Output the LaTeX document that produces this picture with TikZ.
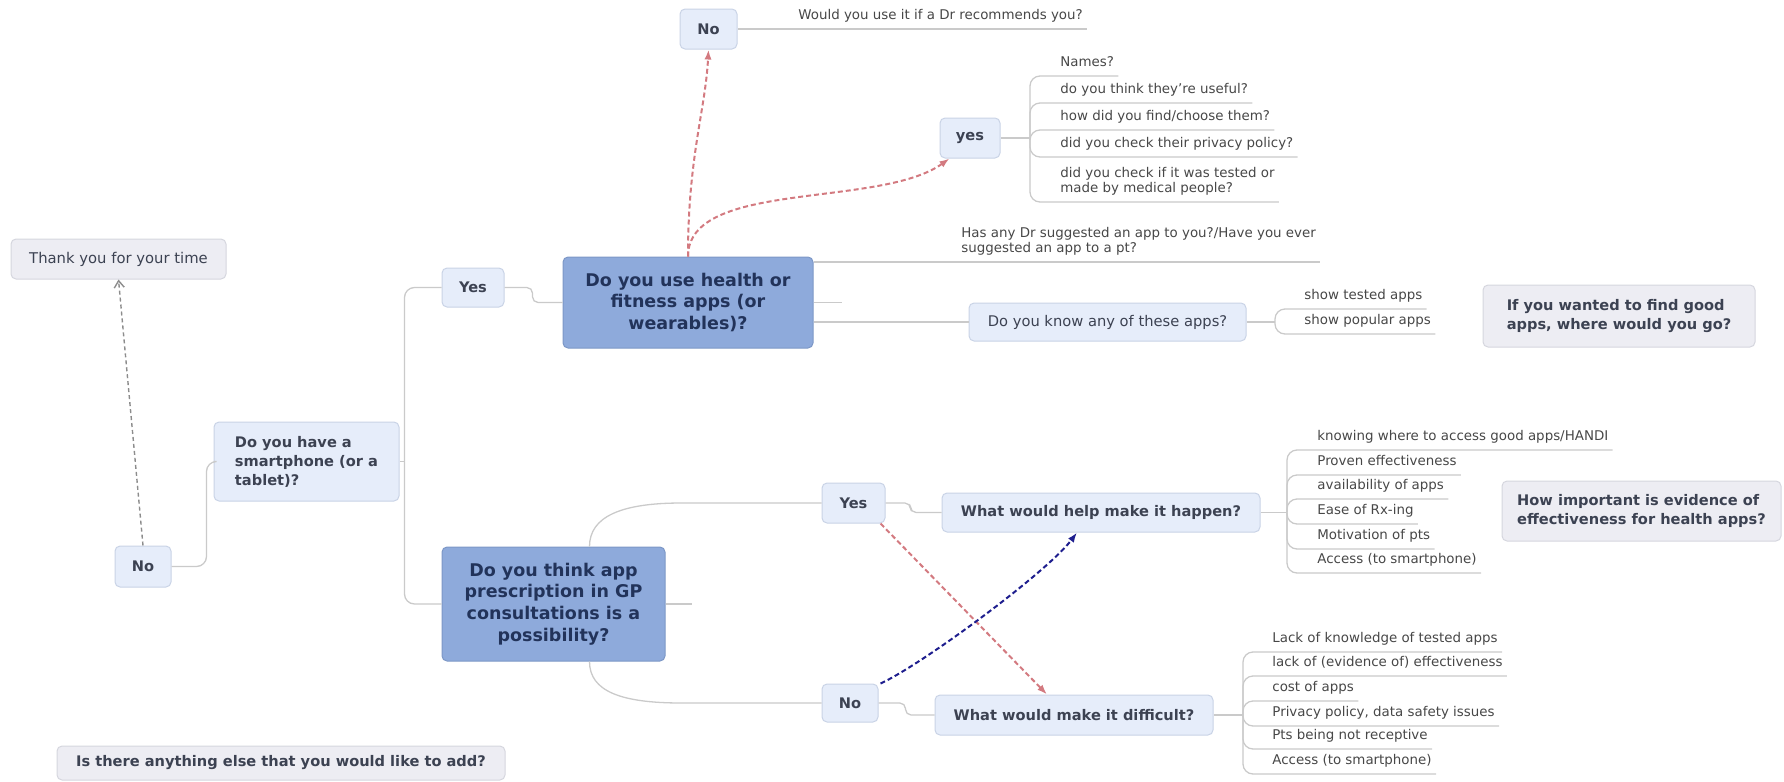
\documentclass[tikz,border=0pt]{standalone}
\usepackage{fontspec}
\setmainfont{DejaVu Sans}
\usetikzlibrary{arrows.meta,calc}
\definecolor{topic}{HTML}{8EAADB}
\definecolor{topicline}{HTML}{7C97C6}
\definecolor{topicink}{HTML}{22335A}
\definecolor{pale}{HTML}{E6EDFA}
\definecolor{paleline}{HTML}{C9D3E6}
\definecolor{mist}{HTML}{EDEDF3}
\definecolor{mistline}{HTML}{D5D6DE}
\definecolor{ink}{HTML}{3C4252}
\definecolor{leafink}{HTML}{474747}
\definecolor{twiggray}{HTML}{CACACA}
\definecolor{rose}{HTML}{D37A80}
\definecolor{navy}{HTML}{1E1E8E}
\definecolor{dashgray}{HTML}{8C8C8C}

\begin{document}
\begin{tikzpicture}[x=.5pt,y=-.5pt,text=ink,
 font=\fontsize{7.3}{9.5}\selectfont,
 central/.style={fill=topic,draw=topicline,line width=.5pt,rounded corners=2.5pt,text=topicink,
  font=\bfseries\fontsize{8.75}{10.85}\selectfont,align=center,inner sep=2pt},
 askbox/.style={fill=pale,draw=paleline,line width=.5pt,rounded corners=2.5pt,
  font=\bfseries\fontsize{7.3}{9.5}\selectfont,align=center,inner sep=2pt},
 floatbox/.style={fill=mist,draw=mistline,line width=.5pt,rounded corners=2.5pt,inner sep=2pt},
 leaf/.style={anchor=south west,text=leafink,font=\fontsize{6.7}{7.6}\selectfont,
  align=left,inner xsep=2pt,inner ysep=2.1pt,text depth=.25em},
 twig/.style={draw=twiggray,line width=.65pt,rounded corners=5pt},
 jog/.style={twig,rounded corners=2.8pt},
 jump/.style={dashed,dash pattern=on 2.5pt off 1.5pt,line width=1pt,-{Latex[length=5pt,width=3.6pt]}}]
\path[use as bounding box] (0,0) rectangle (1784,782);

\node[central,minimum width=125pt,minimum height=45.5pt] (usebox) at (688,302.5) {Do you use health or\\fitness apps (or\\wearables)?};
\node[central,minimum width=111.5pt,minimum height=57pt] (gpbox) at (553.5,604) {Do you think app\\prescription in GP\\consultations is a\\possibility?};

\node[askbox,minimum width=31pt,minimum height=19.5pt] (yesA) at (473,287.5) {Yes};
\node[askbox,align=left,minimum width=92.5pt,minimum height=39.5pt] (phone) at (306.5,461.5) {Do you have a\\smartphone (or a\\tablet)?};
\node[askbox,minimum width=28pt,minimum height=20.5pt] (noA) at (143,566.5) {No};
\node[askbox,minimum width=28.5pt,minimum height=20pt] (topno) at (708.5,29) {No};
\node[askbox,minimum width=30pt,minimum height=20pt] (yesbox) at (970,138) {yes};
\node[askbox,font=\fontsize{7.35}{9.5}\selectfont,minimum width=138.5pt,minimum height=19pt] (knowbox) at (1107.5,322) {Do you know any of these apps?};
\node[askbox,minimum width=31.5pt,minimum height=20pt] (yesB) at (853.5,503) {Yes};
\node[askbox,minimum width=28pt,minimum height=19pt] (noB) at (850,703) {No};
\node[askbox,minimum width=159pt,minimum height=19.5pt] (helpbox) at (1101,512.5) {What would help make it happen?};
\node[askbox,minimum width=139pt,minimum height=20pt] (hardbox) at (1074,715) {What would make it difficult?};

\node[floatbox,font=\fontsize{7.4}{9.5}\selectfont,minimum width=107.5pt,minimum height=20pt] (thanks) at (118.5,259) {Thank you for your time};
\node[floatbox,font=\bfseries\fontsize{7.3}{9.5}\selectfont,align=left,minimum width=136pt,minimum height=31pt] (goodbox) at (1619,316) {If you wanted to find good\\apps, where would you go?};
\node[floatbox,font=\bfseries\fontsize{7.3}{9.5}\selectfont,align=left,minimum width=139.5pt,minimum height=30pt] (evidbox) at (1641.5,511) {How important is evidence of\\effectiveness for health apps?};
\node[floatbox,font=\bfseries\fontsize{7.3}{9.5}\selectfont,minimum width=224pt,minimum height=17pt] (addbox) at (281,763) {Is there anything else that you would like to add?};

\node[leaf] (wouldyou) at (794,29) {Would you use it if a Dr recommends you?};
\node[leaf] (hasany) at (957,262) {Has any Dr suggested an app to you?/Have you ever\\suggested an app to a pt?};
\node[leaf] (names) at (1056,76) {Names?};
\node[leaf] (useful) at (1056,103) {do you think they're useful?};
\node[leaf] (choose) at (1056,130) {how did you find/choose them?};
\node[leaf] (privacy) at (1056,157) {did you check their privacy policy?};
\node[leaf] (tested) at (1056,202) {did you check if it was tested or\\made by medical people?};
\node[leaf] (showtested) at (1300,309) {show tested apps};
\node[leaf] (showpopular) at (1300,334) {show popular apps};
\node[leaf] (knowing) at (1313,450) {knowing where to access good apps/HANDI};
\node[leaf] (proven) at (1313,475) {Proven effectiveness};
\node[leaf] (avail) at (1313,499) {availability of apps};
\node[leaf] (ease) at (1313,524) {Ease of Rx-ing};
\node[leaf] (motiv) at (1313,549) {Motivation of pts};
\node[leaf] (accessA) at (1313,573) {Access (to smartphone)};
\node[leaf] (lackknow) at (1268,652) {Lack of knowledge of tested apps};
\node[leaf] (lackeff) at (1268,676) {lack of (evidence of) effectiveness};
\node[leaf] (cost) at (1268,701) {cost of apps};
\node[leaf] (privacyB) at (1268,726) {Privacy policy, data safety issues};
\node[leaf] (receptive) at (1268,749) {Pts being not receptive};
\node[leaf] (accessB) at (1268,774) {Access (to smartphone)};

\coordinate (trunk) at ($(phone.east)+(5,0)$);
\coordinate (ltrunk) at ($(phone.west)+(-7,0)$);
\coordinate (usestub) at (842,302.5);
\coordinate (gpstub) at (692,604);
\coordinate (jyes) at (1030,138);
\coordinate (jknow) at (1275,322);
\coordinate (jhelp) at (1287,512.5);
\coordinate (jhard) at (1243,715);

\draw[twig] (phone.east) -- (trunk);
\draw[twig] (trunk) |- (yesA.west);
\draw[twig] (trunk) |- (gpbox.west);
\draw[twig] (phone.west) -- (ltrunk) |- (noA.east);
\draw[jog] (yesA.east) -- ++(28,0) |- (usebox.west);
\draw[twig] (usebox.east |- hasany.south east) -- (hasany.south east);
\draw[twig] (usebox.east) -- (usestub);
\draw[twig] (usebox.east |- knowbox.west) -- (knowbox.west);
\draw[twig] (topno.east) -- (wouldyou.south east);
\draw[twig] (yesbox.east) -- (jyes);
\foreach \n in {names,useful,choose,privacy,tested}{\draw[twig] (jyes) |- (\n.south east);}
\draw[twig] (knowbox.east) -- (jknow);
\foreach \n in {showtested,showpopular}{\draw[twig] (jknow) |- (\n.south east);}
\draw[twig] ($(gpbox.north)+(36,0)$) .. controls +(0,-30) and +(-70,0) .. ($(yesB.west)+(-130,0)$) -- (yesB.west);
\draw[twig] ($(gpbox.south)+(36,0)$) .. controls +(0,30) and +(-70,0) .. ($(noB.west)+(-130,0)$) -- (noB.west);
\draw[twig] (gpbox.east) -- (gpstub);
\draw[jog] (yesB.east) -- ++(25,0) |- (helpbox.west);
\draw[jog] (noB.east) -- ++(27,0) |- (hardbox.west);
\draw[twig] (helpbox.east) -- (jhelp);
\foreach \n in {knowing,proven,avail,ease,motiv,accessA}{\draw[twig] (jhelp) |- (\n.south east);}
\draw[twig] (hardbox.east) -- (jhard);
\foreach \n in {lackknow,lackeff,cost,privacyB,receptive,accessB}{\draw[twig] (jhard) |- (\n.south east);}

\draw[jump,draw=rose] (usebox.north) .. controls +(0,-100) and +(-3,60) .. (topno.south);
\draw[jump,draw=rose] (usebox.north) .. controls +(0,-77) and +(-70,50) .. ($(yesbox.south west)+(10,0)$);
\draw[jump,draw=rose] ($(yesB.south east)+(-5,0)$) -- ($(hardbox.north)+(-27,0)$);
\draw[jump,draw=navy] ($(noB.north east)+(2,0)$) .. controls +(40,-18) and +(-30,40) .. ($(helpbox.south)+(-24,0)$);
\draw[dashed,dash pattern=on 2pt off 1.5pt,draw=dashgray,line width=.7pt,-{Straight Barb[length=3.5pt,width=5pt]}] (noA.north) -- (thanks.south);
\end{tikzpicture}
\end{document}
